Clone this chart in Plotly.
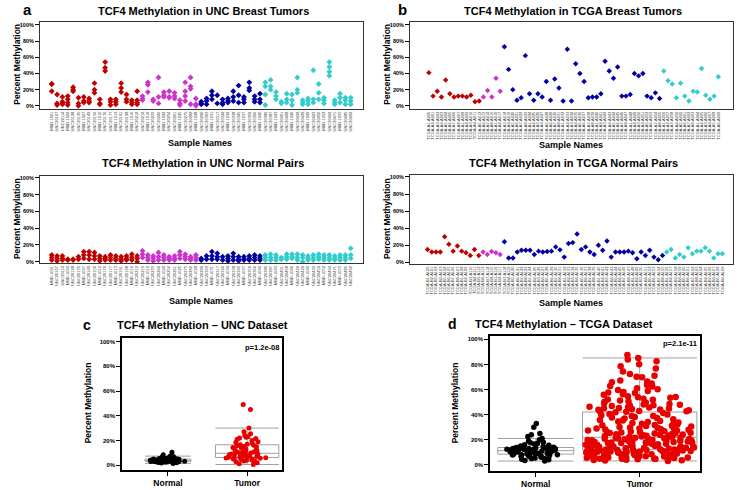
import plotly.graph_objects as go

W, H = 738, 490
RED, MAG, BLUE, CYAN = "#C00000", "#CC33CC", "#0000A0", "#33CCCC"
FONT = "Liberation Sans"

# ---------------- Panel a: UNC breast tumors (values per sample, %) ----------------
unc_tumor_red = [[27, 27, 18], [14, 3, 1], [11, 5, 3, 2], [12, 8, 4, 1], [23, 20, 18], [10, 3, 0],
                 [11, 6, 4], [9, 6, 4], [28, 20, 16], [8, 3, 2], [54, 47, 43], [8, 5, 1], [8, 5, 2],
                 [28, 22, 17], [14, 8, 5], [7, 4, 2], [18, 7, 4, 2]]
unc_tumor_mag = [[12, 9, 7], [29, 26, 17], [8, 6], [35, 11, 3], [17, 13, 11], [18, 11, 10],
                 [16, 12, 9], [7, 3, 1], [29, 18, 12, 6], [35, 24, 21, 2], [9, 2, 0]]
unc_tumor_blue = [[5, 3, 2], [9, 6, 2], [18, 13, 8], [13, 3], [8, 4, 2], [9, 6, 4], [18, 11, 6],
                  [25, 13, 4], [11, 8, 4], [29, 22, 19], [12, 8, 5], [15, 8, 4]]
unc_tumor_cyan = [[29, 24, 14, 1], [32, 24, 20], [17, 12, 8], [5, 3], [15, 8, 4], [14, 7, 1],
                  [35, 20, 16], [7, 4, 2], [9, 6, 2], [44, 8, 4], [27, 16, 8], [10, 7, 3],
                  [54, 48, 42, 37], [7, 4, 2], [15, 10, 4], [10, 7, 2], [10, 6, 2]]

# ---------------- Panel a2: UNC normal pairs ----------------
unc_normal_red = [[8, 5, 2], [7, 4, 1], [7, 4, 2], [3, 2], [3, 2], [6, 3], [12, 8, 4], [12, 8, 3],
                  [11, 7, 3], [7, 4, 1], [6, 4, 2], [8, 5, 2], [7, 4, 2], [6, 3, 1], [7, 4, 2],
                  [9, 5, 2], [7, 4, 0]]
unc_normal_mag = [[13, 9, 5], [8, 5, 2], [7, 4, 1], [11, 6, 2], [8, 5, 2], [6, 4, 2], [7, 4, 2],
                  [12, 8, 4], [9, 6, 3], [6, 4, 2], [8, 5, 2]]
unc_normal_blue = [[4, 2], [7, 3], [12, 7, 3], [10, 6, 3], [6, 2], [7, 4, 1], [10, 6, 2], [6, 3, 1],
                   [6, 3, 2], [7, 4, 2], [8, 5, 2], [7, 4, 2]]
unc_normal_cyan = [[8, 5, 2], [9, 5, 2], [8, 5, 2], [5, 3], [9, 6, 3], [9, 6, 4], [9, 5, 2], [8, 5, 0],
                   [7, 4, 2], [8, 5, 2], [9, 6, 3], [8, 5, 2], [8, 5, 2], [7, 4, 2], [8, 5, 2],
                   [8, 5, 2], [16, 8, 4]]

# ---------------- Panel b: TCGA breast tumors (one value per sample) ----------------
tcga_tumor_red = [41, 12, 18, 11, 32, 15, 11, 12, 12, 11, 13, 5, 6]
tcga_tumor_mag = [11, 19, 11, 34, 18]
tcga_tumor_blue = [73, 45, 20, 7, 10, 62, 15, 7, 15, 11, 30, 7, 33, 22, 6, 70, 6, 52, 40, 30, 10, 11,
                   11, 15, 55, 43, 34, 48, 12, 12, 14, 40, 37, 40, 12, 10, 16, 9]
tcga_tumor_cyan = [43, 31, 27, 10, 28, 12, 6, 18, 17, 46, 13, 8, 12, 36]

# ---------------- Panel b2: TCGA normal pairs ----------------
tcga_normal_red = [15, 12, 12, 12, 30, 21, 13, 19, 13, 11, 8, 15, 8]
tcga_normal_mag = [12, 9, 12.5, 11, 9]
tcga_normal_blue = [24, 5, 5, 12, 14, 14, 14, 9, 13, 12, 12.5, 13, 18, 14.5, 6, 22, 23, 33, 15, 18, 12,
                    9, 20, 14, 25, 6, 12, 12, 12, 13, 11, 4, 12, 8, 14, 6, 3, 8]
tcga_normal_cyan = [12, 15, 5, 9, 6, 17, 10, 13, 13, 17, 13, 5, 10, 10]

# ---------------- Panel c: UNC dataset box plot ----------------
unc_box_normal = [1.4, 1.8, 2.0, 2.2, 2.4, 2.5, 2.6, 2.7, 2.8, 2.9, 3.0, 3.1, 3.2, 3.3, 3.4, 3.5, 3.5,
                  3.6, 3.7, 3.8, 3.8, 3.9, 4.0, 4.1, 4.2, 4.3, 4.4, 4.5, 4.6, 4.7, 4.8, 4.9, 5.0, 5.1,
                  5.2, 5.4, 5.6, 5.8, 6.0, 6.3, 6.6, 7.0, 7.3, 8.5, 10.5, 3.0, 3.3, 3.6, 4.0, 4.4, 2.9,
                  3.7, 4.2, 5.3, 2.6, 3.4, 4.6]
unc_box_tumor = [0.5, 1.2, 2.0, 2.8, 3.3, 3.9, 4.2, 4.6, 4.9, 5.0, 5.2, 5.5, 5.8, 6.0, 6.2, 6.5, 6.7,
                 7.0, 7.2, 7.5, 7.7, 7.9, 8.0, 8.2, 8.4, 8.7, 9.0, 9.4, 9.8, 10.2, 10.7, 11.2, 11.8,
                 12.4, 13.0, 13.6, 14.2, 14.8, 15.4, 16.0, 16.5, 17.0, 18.0, 19.0, 20.0, 21.0, 22.0,
                 23.0, 24.0, 25.5, 27.0, 30.0, 45.0, 49.0, 6.3, 7.4, 5.7, 8.9, 12.1, 15.1, 18.6, 21.5,
                 3.6, 10.4, 22.6, 14.5]

# ---------------- Panel d: TCGA dataset box plot ----------------
tcga_box_normal = [3, 3.5, 4, 4.5, 5, 5, 5.5, 6, 6.5, 7, 7, 7.5, 8, 8, 8.2, 8.5, 8.8, 9, 9, 9.3, 9.5,
                   9.8, 10, 10, 10.3, 10.5, 10.8, 11, 11, 11.2, 11.5, 11.7, 11.8, 12, 12, 12.2, 12.4,
                   12.5, 12.8, 13, 13, 13.2, 13.4, 13.6, 13.8, 14, 14.5, 15, 15.5, 16, 16.5, 17, 17.5,
                   18, 19, 20, 21, 24, 25, 30, 33, 22.5, 11.4, 10.6, 9.6, 12.6, 13.3, 8.6, 7.8, 6.8]
tcga_box_tumor = [
    3.1, 4.8, 6.2, 7.5, 9.9, 11.4, 5.3, 8.1, 10.6, 3.9, 7.0, 11.8, 6.6, 9.2, 4.4, 10.1, 8.7, 5.9, 11.1, 7.8,
    3.5, 9.5, 6.9, 10.9, 4.1, 8.4, 11.6, 5.6, 7.3, 9.0, 10.4, 6.1, 8.9, 4.7, 11.3, 7.1, 9.7, 5.1, 10.7, 8.2,
    6.4, 11.9, 3.7, 9.4, 7.6, 10.2, 5.4, 8.6, 11.0, 6.8, 4.3, 9.8, 7.9, 10.5, 5.8, 11.5, 8.0, 6.0, 9.1, 4.9,
    12.3, 15.7, 19.2, 13.8, 17.4, 20.9, 14.6, 18.1, 21.5, 12.9, 16.3, 19.8, 13.2, 17.9, 21.1, 15.0, 18.7, 12.6, 16.8, 20.3,
    14.1, 19.5, 13.5, 17.1, 21.8, 15.4, 18.4, 12.1, 16.0, 20.6, 14.9, 19.0, 13.0, 17.6, 21.3, 15.9, 18.9, 12.8, 16.5, 20.1,
    14.4, 19.3, 13.7, 17.3, 21.6, 15.2, 18.2, 12.4, 16.1, 20.4, 14.7, 19.7, 13.3, 17.8, 21.0, 15.6, 18.5, 12.2, 16.7, 20.8,
    22.4, 26.8, 31.5, 24.1, 29.3, 35.7, 23.2, 27.9, 33.8, 40.6, 22.9, 25.5, 30.2, 37.4, 24.7, 28.6, 34.1, 41.3, 23.6, 26.2,
    32.0, 38.9, 22.1, 27.3, 30.9, 36.3, 25.0, 29.8, 33.1, 39.5, 23.9, 28.1, 31.8, 41.9, 24.4, 26.5, 35.0, 22.7, 29.0, 32.7,
    38.1, 25.8, 27.6, 30.5, 36.9, 23.4, 28.9, 34.6, 40.2, 24.9, 26.0, 31.1, 37.8, 22.6, 29.5, 33.4, 39.0, 25.3, 27.1, 35.4,
    42.8, 51.3, 63.7, 45.2, 58.9, 72.4, 44.1, 49.6, 55.8, 67.2, 82.5, 43.5, 47.9, 53.4, 61.0, 76.8, 46.3, 50.7, 57.2, 64.9,
    87.6, 42.3, 48.5, 54.1, 69.8, 44.8, 52.6, 59.7, 74.3, 43.0, 46.9, 56.3, 62.4, 80.1, 45.7, 50.2, 66.5, 48.0, 53.9, 71.0,
    42.5, 47.2, 58.1, 85.2, 44.4, 51.8, 60.3, 78.6, 46.0, 54.7, 65.8, 43.9, 49.1, 57.6, 70.2, 45.0, 52.1, 62.9, 84.0, 47.5]

box_categories = ["Normal", "Tumor"]
pct_ticks = [0, 20, 40, 60, 80, 100]
pct_labels = ["0%", "20%", "40%", "60%", "80%", "100%"]

n_unc = len(unc_tumor_red) + len(unc_tumor_mag) + len(unc_tumor_blue) + len(unc_tumor_cyan)
unc_sample_names = ["MBD-%04d" % (1001 + i) if i % 3 == 0 else "UNC%05d" % (20100 + 7 * i)
                    for i in range(n_unc)]
n_tb = len(tcga_tumor_red) + len(tcga_tumor_mag) + len(tcga_tumor_blue) + len(tcga_tumor_cyan)
n_tn = len(tcga_normal_red) + len(tcga_normal_mag) + len(tcga_normal_blue) + len(tcga_normal_cyan)
tcga_tumor_names = ["TCGA-A%d-A0%02d" % (1 + i % 8, i) for i in range(n_tb)]
tcga_normal_names = ["TCGA-B%d-A1%02d" % (1 + i % 8, i) for i in range(n_tn)]

fig = go.Figure()


def add_grouped(groups, axis_suffix, multi, size):
    start = 0
    for vals, col in groups:
        xs, ys = [], []
        for k, v in enumerate(vals):
            items = v if multi else [v]
            for val in items:
                xs.append(start + k)
                ys.append(val)
        fig.add_trace(go.Scatter(x=xs, y=ys, mode="markers", xaxis="x" + axis_suffix,
                                 yaxis="y" + axis_suffix, showlegend=False,
                                 marker=dict(symbol="diamond", size=size, color=col,
                                             line=dict(width=0))))
        start += len(vals)


add_grouped([(unc_tumor_red, RED), (unc_tumor_mag, MAG), (unc_tumor_blue, BLUE), (unc_tumor_cyan, CYAN)], "", True, 4.5)
add_grouped([(unc_normal_red, RED), (unc_normal_mag, MAG), (unc_normal_blue, BLUE), (unc_normal_cyan, CYAN)], "2", True, 4.5)
add_grouped([(tcga_tumor_red, RED), (tcga_tumor_mag, MAG), (tcga_tumor_blue, BLUE), (tcga_tumor_cyan, CYAN)], "3", False, 4.2)
add_grouped([(tcga_normal_red, RED), (tcga_normal_mag, MAG), (tcga_normal_blue, BLUE), (tcga_normal_cyan, CYAN)], "4", False, 4.2)


def add_box(vals, pos, width, color, axis_suffix, size, jitter):
    fig.add_trace(go.Box(y=vals, x0=pos, width=width, xaxis="x" + axis_suffix, yaxis="y" + axis_suffix,
                         boxpoints="all", jitter=jitter, pointpos=0, whiskerwidth=1,
                         fillcolor="rgba(0,0,0,0)", line=dict(color="#A0A0A0", width=1),
                         marker=dict(color=color, size=size, line=dict(width=0)),
                         showlegend=False, hoveron="points"))


add_box(unc_box_normal, 0, 0.58, "black", "5", 5, 0.9)
add_box(unc_box_tumor, 1, 0.8, "#E80000", "5", 5, 0.7)
add_box(tcga_box_normal, 0, 0.73, "black", "6", 5.5, 0.8)
add_box(tcga_box_tumor, 1, 1.1, "#E80000", "6", 6.5, 0.95)


def dx(a, b):
    return [a / W, b / W]


def dy(top, bottom):
    return [1 - bottom / H, 1 - top / H]


frame = dict(showline=True, linecolor="#333333", linewidth=1, mirror=True, showgrid=False,
             zeroline=False)


def yax(domain, rng, anchor, size=5.5, lw=1):
    d = dict(frame)
    d.update(domain=domain, range=rng, anchor=anchor, tickmode="array", tickvals=pct_ticks,
             ticktext=pct_labels, ticks="outside", ticklen=4, tickwidth=1, tickcolor="black",
             tickfont=dict(family=FONT, size=size, color="black", weight="bold"), linewidth=lw,
             linecolor="black" if lw > 1 else "#333333")
    return d


def xsamp(domain, rng, anchor, names):
    d = dict(frame)
    d.update(domain=domain, range=rng, anchor=anchor, tickmode="array",
             tickvals=list(range(len(names))), ticktext=names, tickangle=-90, ticks="",
             tickfont=dict(family=FONT, size=4, color="#333333"))
    return d


def xbox(domain, rng, anchor):
    d = dict(frame)
    d.update(domain=domain, range=rng, anchor=anchor, tickmode="array", tickvals=[0, 1],
             ticktext=box_categories, ticks="outside", ticklen=4, tickcolor="black", linewidth=1.5,
             linecolor="black", tickfont=dict(family=FONT, size=8.5, color="black", weight="bold"))
    return d


fig.update_layout(
    width=W, height=H, margin=dict(l=0, r=0, t=0, b=0),
    paper_bgcolor="white", plot_bgcolor="white", showlegend=False,
    xaxis=xsamp(dx(40, 363), [-2.2, 58.3], "y", unc_sample_names),
    yaxis=yax(dy(20.7, 108.5), [-4, 104], "x"),
    xaxis2=xsamp(dx(40, 363), [-2.2, 58.3], "y2", unc_sample_names),
    yaxis2=yax(dy(176, 263.5), [-2, 102], "x2"),
    xaxis3=xsamp(dx(410, 733), [-4.5, 72.5], "y3", tcga_tumor_names),
    yaxis3=yax(dy(20.7, 108.5), [-4, 104], "x3"),
    xaxis4=xsamp(dx(410, 733), [-4.1, 71.5], "y4", tcga_normal_names),
    yaxis4=yax(dy(175, 264), [-2, 102], "x4"),
    xaxis5=xbox(dx(122, 282), [-0.58, 1.44], "y5"),
    yaxis5=yax(dy(338, 471), [-4, 103.2], "x5", size=6, lw=1.5),
    xaxis6=xbox(dx(490, 700), [-0.44, 1.58], "y6"),
    yaxis6=yax(dy(336, 472), [-5, 103], "x6", size=6, lw=1.5),
)


def txt(s, px, py, size, angle=0, xanchor="center"):
    fig.add_annotation(text=s, x=px / W, y=1 - py / H, xref="paper", yref="paper", showarrow=False,
                       xanchor=xanchor, yanchor="middle", textangle=angle,
                       font=dict(family=FONT, size=size, color="black", weight="bold"))


# panel titles and letters
txt("a", 27, 9, 15)
txt("TCF4 Methylation in UNC Breast Tumors", 203, 10, 11)
txt("b", 402, 9, 15)
txt("TCF4 Methylation in TCGA Breast Tumors", 573, 10, 11)
txt("TCF4 Methylation in UNC Normal Pairs", 203, 163, 11)
txt("TCF4 Methylation in TCGA Normal Pairs", 573, 163, 11)
txt("c", 87, 325, 14)
txt("TCF4 Methylation \u2013 UNC Dataset", 202, 325, 11)
txt("d", 453, 324, 14)
txt("TCF4 Methylation \u2013 TCGA Dataset", 564, 324, 11)

# axis titles
txt("Percent Methylation", 17, 64, 8.5, angle=-90)
txt("Percent Methylation", 17, 219, 8.5, angle=-90)
txt("Percent Methylation", 387, 64, 8.5, angle=-90)
txt("Percent Methylation", 387, 219, 8.5, angle=-90)
txt("Percent Methylation", 88, 404, 8.5, angle=-90)
txt("Percent Methylation", 455, 404, 8.5, angle=-90)
txt("Sample Names", 200, 143, 9)
txt("Sample Names", 201, 301, 9)
txt("Sample Names", 571, 145, 9)
txt("Sample Names", 571, 303, 9)

# p-values
txt("p=1.2e-08", 262, 348, 7.5)
txt("p=2.1e-11", 680, 344, 7.5)

fig.write_html("out.html", config={"displayModeBar": False},
               post_script="document.body.style.margin='0px';")
